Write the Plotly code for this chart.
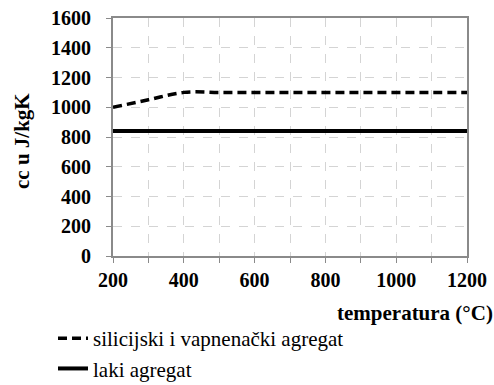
import plotly.graph_objects as go

temp = [200, 300, 400, 500, 600, 700, 800, 900, 1000, 1100, 1200]
cc_silicijski = [1000, 1050, 1100, 1100, 1100, 1100, 1100, 1100, 1100, 1100, 1100]
cc_laki = [840, 840, 840, 840, 840, 840, 840, 840, 840, 840, 840]
y_ticks = [0, 200, 400, 600, 800, 1000, 1200, 1400, 1600]
x_ticks = [200, 400, 600, 800, 1000, 1200]

FONT = "Times New Roman"
AX = "#8a8a8a"
GRID = "#d4d4d4"

fig = go.Figure()
fig.add_trace(go.Scatter(
    x=temp, y=cc_silicijski, mode="lines",
    name="silicijski i vapnenački agregat",
    line=dict(color="black", width=3.5, dash="9px,5px", shape="spline", smoothing=1),
    legendgroup="a", cliponaxis=False,
))
fig.add_trace(go.Scatter(
    x=temp, y=cc_laki, mode="lines",
    name="laki agregat",
    line=dict(color="black", width=4),
    legendgroup="b",
))

W, H = 494, 385
L, T = 113, 18
R = W - 467
B = H - 256
pw = W - L - R
ph = H - T - B


def px_x(x):
    return (x - L) / pw


def px_y(y):
    return (T + ph - y) / ph


fig.update_layout(
    width=W, height=H,
    margin=dict(l=L, r=R, t=T, b=B, autoexpand=False),
    paper_bgcolor="white", plot_bgcolor="white",
    font=dict(family=FONT, color="black"),
    showlegend=True,
    legend=dict(
        x=px_x(53), xanchor="left",
        y=px_y(318), yanchor="top",
        font=dict(family=FONT, size=21, color="black"),
        tracegroupgap=0, bgcolor="rgba(0,0,0,0)",
    ),
    xaxis=dict(
        range=[200, 1200], tickvals=x_ticks, ticktext=[str(v) for v in x_ticks],
        tickfont=dict(family=FONT, size=20, color="black", weight="bold"),
        showline=True, linecolor=AX, linewidth=2, mirror=True,
        ticks="outside", ticklen=5, tickcolor=AX, tickwidth=1,
        showgrid=True, gridcolor=GRID, griddash="dash", gridwidth=1,
        minor=dict(dtick=100, ticks="outside", ticklen=5, tickcolor=AX,
                   showgrid=True, gridcolor=GRID, griddash="dash", gridwidth=1),
        zeroline=False, fixedrange=True,
    ),
    yaxis=dict(
        range=[0, 1600], tickvals=y_ticks, ticktext=[str(v) for v in y_ticks],
        tickfont=dict(family=FONT, size=20, color="black", weight="bold"),
        showline=True, linecolor=AX, linewidth=2, mirror=True,
        ticks="outside", ticklen=5, tickcolor=AX, tickwidth=1,
        ticklabelstandoff=11,
        showgrid=True, gridcolor=GRID, griddash="dash", gridwidth=1,
        zeroline=False, fixedrange=True,
    ),
    annotations=[
        dict(text="<b>temperatura (°C)</b>", xref="paper", yref="paper",
             x=px_x(495), y=px_y(313), xanchor="right", yanchor="middle",
             showarrow=False, font=dict(family=FONT, size=21, color="black")),
        dict(text="<b>cc u J/kgK</b>", xref="paper", yref="paper",
             x=px_x(22), y=px_y(141), xanchor="center", yanchor="middle",
             textangle=-90, showarrow=False, font=dict(family=FONT, size=21, color="black")),
    ],
)

fig.write_html("out.html", config={"displayModeBar": False},
               post_script="document.body.style.margin='0px';")
